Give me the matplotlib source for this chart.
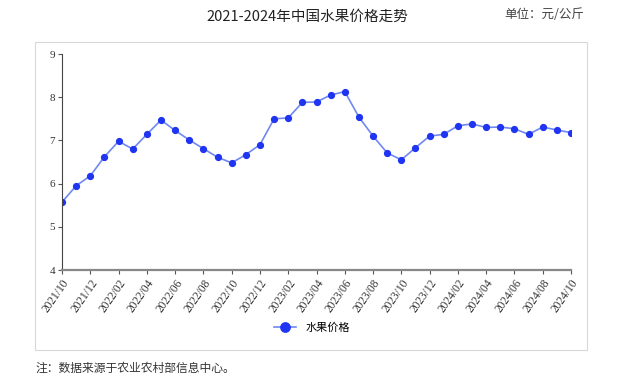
import matplotlib.pyplot as plt
from matplotlib.patches import Rectangle

plt.rcParams['font.family'] = ['Noto Sans CJK SC', 'DejaVu Sans']

# monthly fruit price, 2021/10 .. 2024/10 (yuan/kg)
months = []
for y in range(2021, 2025):
    for m in range(1, 13):
        if (y == 2021 and m < 10) or (y == 2024 and m > 10):
            continue
        months.append(f"{y}/{m:02d}")

prices = [5.57, 5.95, 6.18, 6.62, 6.98, 6.80, 7.14, 7.47, 7.23, 7.01,
          6.81, 6.61, 6.48, 6.67, 6.90, 7.50, 7.52, 7.88, 7.89, 8.05,
          8.13, 7.54, 7.10, 6.71, 6.55, 6.83, 7.10, 7.14, 7.34, 7.38,
          7.30, 7.31, 7.27, 7.14, 7.31, 7.24, 7.18]

title = "2021-2024年中国水果价格走势"
unit = "单位：元/公斤"
note = "注：数据来源于农业农村部信息中心。"
series_name = "水果价格"

fig = plt.figure(figsize=(6.22, 3.82), dpi=100)
fig.patches.append(Rectangle((35/622, 1-350/382), 552/622, 308/382,
                             transform=fig.transFigure, fill=False,
                             edgecolor='#d8d8d8', linewidth=0.8))

ax = fig.add_axes([62/622, 1-270/382, 509/622, 216/382])
x = list(range(len(months)))
ax.plot(x, prices, color='#7088f2', linewidth=1.2, marker='o',
        markersize=4.2, markerfacecolor='#1f35f2', markeredgecolor='#1f35f2',
        label=series_name)

ax.set_xlim(0, len(months) - 1)
ax.set_ylim(4, 9)
ax.set_yticks(range(4, 10))
ax.set_yticklabels([str(v) for v in range(4, 10)], family='Liberation Serif',
                   fontsize=8, color='#333333')
ax.set_xticks(x[::2])
ax.set_xticklabels(months[::2], rotation=55, ha='right', rotation_mode='anchor',
                   family='Liberation Serif', fontsize=8.3, color='#333333')
ax.tick_params(length=3, width=0.8, color='#555555', pad=2)

for s in ['top', 'right']:
    ax.spines[s].set_visible(False)
ax.spines['left'].set_color('#444444')
ax.spines['bottom'].set_color('#888888')
ax.spines['bottom'].set_linewidth(1.6)

ax.legend(loc='center', bbox_to_anchor=(312/622, 1-328/382),
          bbox_transform=fig.transFigure, frameon=False, fontsize=8,
          handlelength=2.0, markerscale=1.6)

fig.text(307/622, 1-17/382, title, ha='center', va='center', fontsize=10.5,
         color='#222222')
fig.text(544/622, 1-15/382, unit, ha='center', va='center', fontsize=9,
         color='#444444')
fig.text(35/622, 1-368/382, note, ha='left', va='center', fontsize=8.5,
         color='#333333')

fig.savefig('out.png', dpi=100)
